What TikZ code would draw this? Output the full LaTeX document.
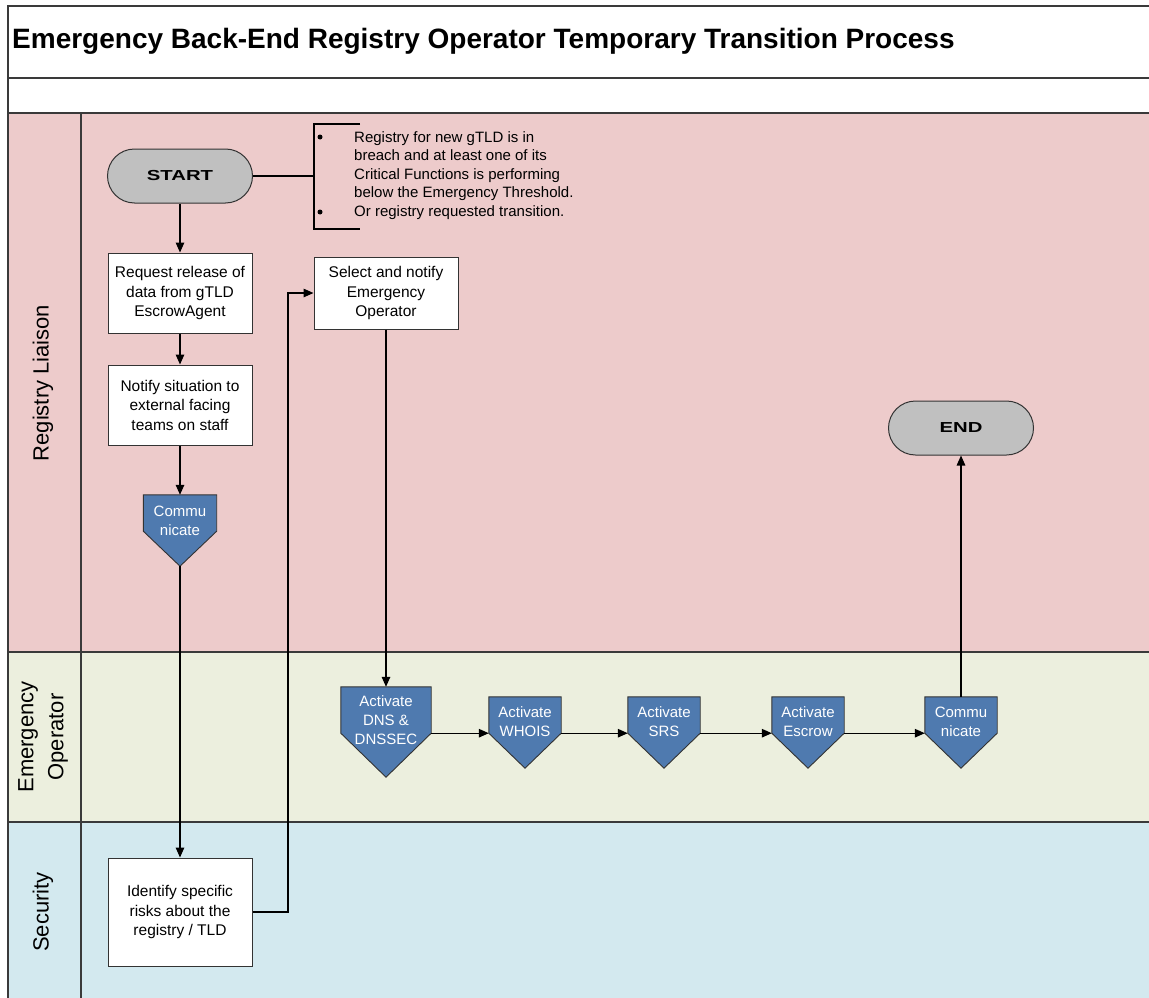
\documentclass[tikz,border=0pt]{standalone}
\usepackage{fontspec}
\setmainfont{Liberation Sans}
\usetikzlibrary{arrows.meta,calc}
\definecolor{lanepink}{HTML}{EDCBCB}
\definecolor{lanegreen}{HTML}{ECEFDE}
\definecolor{laneblue}{HTML}{D3E9EF}
\definecolor{shapeblue}{HTML}{4F7AAF}
\definecolor{pillgray}{HTML}{C0C0C0}
\definecolor{frameline}{HTML}{3A3A3A}
\newcommand\drawpent[2]{\draw[pentshape] (#1.north west) -- (#1.north east) -- (#1.south east) -- ($(#1.south)+(0,#2)$) -- (#1.south west) -- cycle;}
\begin{document}
\begin{tikzpicture}[x=1pt,y=-1pt,
  laneline/.style={draw=frameline, line width=1.6pt},
  lanelabel/.style={font=\fontsize{22}{30}\selectfont, inner sep=0, align=center},
  box/.style={draw=black!80, line width=1pt, fill=white, minimum width=144pt, align=center, font=\fontsize{15.5}{19.5}\selectfont, inner sep=0},
  pill/.style={draw=black!80, line width=1pt, fill=pillgray, rounded corners=27pt, minimum width=145pt, minimum height=54pt, inner sep=0, font=\fontsize{14.5}{16}\selectfont\bfseries},
  pentbox/.style={inner sep=0, minimum width=72pt, minimum height=36pt},
  pentshape/.style={fill=shapeblue, draw=black!80, line width=0.9pt},
  penttext/.style={inner sep=0, align=center, text=white, font=\fontsize{15}{19}\selectfont},
  conn/.style={line width=1.4pt, draw=black},
  arr/.style={conn, -{Triangle[length=10pt,width=8.5pt]}},
  notetext/.style={inner sep=0, align=left, font=\fontsize{15}{18.5}\selectfont},
  bulletdot/.style={circle, fill=black, inner sep=0, minimum size=5pt}
]
\useasboundingbox (0,0) rectangle (1149,998);
% backgrounds
\fill[white] (0,0) rectangle (1149,113);
\fill[lanepink] (8,113) rectangle (1149,652);
\fill[lanegreen] (8,652) rectangle (1149,822);
\fill[laneblue] (8,822) rectangle (1149,998);
% frame and lane lines
\draw[laneline] (1149,6) -- (8,6) -- (8,998);
\draw[laneline] (8,78) -- (1149,78);
\draw[laneline] (8,113) -- (1149,113);
\draw[laneline] (8,652) -- (1149,652);
\draw[laneline] (8,822) -- (1149,822);
\draw[laneline] (81,113) -- (81,998);
% title
\node[anchor=west, inner sep=0, font=\fontsize{28}{32}\selectfont\bfseries] (title) at (12,41) {Emergency Back-End Registry Operator Temporary Transition Process};
% lane labels
\node[lanelabel, rotate=90] (lblrl) at (43,383) {Registry Liaison};
\node[lanelabel, rotate=90] (lbleo) at (43,737) {Emergency\\Operator};
\node[lanelabel, rotate=90] (lbls) at (43,912) {Security};
% start / end
\node[pill] (start) at (180,176) {\scalebox{1.4}[1]{START}};
\node[pill] (end) at (961,428) {\scalebox{1.4}[1]{END}};
% annotation
\coordinate (brk) at (314,176);
\draw[conn] (360,124) -- (314,124) -- (314,229) -- (360,229);
\node[notetext, anchor=north west] (note) at (354,131) {Registry for new gTLD is in\\breach and at least one of its\\Critical Functions is performing\\below the Emergency Threshold.\\Or registry requested transition.};
\node[bulletdot] (bul1) at (320,137) {};
\node[bulletdot] (bul2) at (320,212) {};
% boxes
\node[box, minimum height=80pt] (req) at (180,293) {Request release of\\data from gTLD\\EscrowAgent};
\node[box, minimum height=80pt] (notify) at (180,405) {Notify situation to\\external facing\\teams on staff};
\node[box, minimum height=72pt] (sel) at (386,293) {Select and notify\\Emergency\\Operator};
\node[box, minimum height=108pt] (sec) at (180,912) {Identify specific\\risks about the\\registry / TLD};
% pentagons
\node[pentbox, minimum width=73pt] (comm1) at (180,513) {};
\drawpent{comm1}{35}
\coordinate (c1tip) at ($(comm1.south)+(0,35)$);
\node[penttext] (comm1t) at (180,521) {Commu\\nicate};

\node[pentbox, minimum width=90pt, minimum height=46pt] (dns) at (386,710) {};
\drawpent{dns}{44}
\node[penttext] (dnst) at (386,720) {Activate\\DNS \&\\DNSSEC};

\node[pentbox] (whois) at (525,715) {};
\drawpent{whois}{35}
\node[penttext] (whoist) at (525,722) {Activate\\WHOIS};

\node[pentbox] (srs) at (664,715) {};
\drawpent{srs}{35}
\node[penttext] (srst) at (664,722) {Activate\\SRS};

\node[pentbox] (escrow) at (808,715) {};
\drawpent{escrow}{35}
\node[penttext] (escrowt) at (808,722) {Activate\\Escrow};

\node[pentbox] (comm2) at (961,715) {};
\drawpent{comm2}{35}
\node[penttext] (comm2t) at (961,722) {Commu\\nicate};
% connectors
\draw[conn] (start.east) -- (brk);
\draw[arr] (start.south) -- (req.north);
\draw[arr] (req.south) -- (notify.north);
\draw[arr] (notify.south) -- (comm1.north);
\draw[arr] (c1tip) -- (sec.north);
\draw[arr] (sec.east) -| ($(sel.west)+(-25.5,0)$) -- (sel.west);
\draw[arr] (sel.south) -- (dns.north);
\draw[arr] (dns.south east) -- (whois.south west);
\draw[arr] (whois.south east) -- (srs.south west);
\draw[arr] (srs.south east) -- (escrow.south west);
\draw[arr] (escrow.south east) -- (comm2.south west);
\draw[arr] (comm2.north) -- (end.south);
\end{tikzpicture}
\end{document}
